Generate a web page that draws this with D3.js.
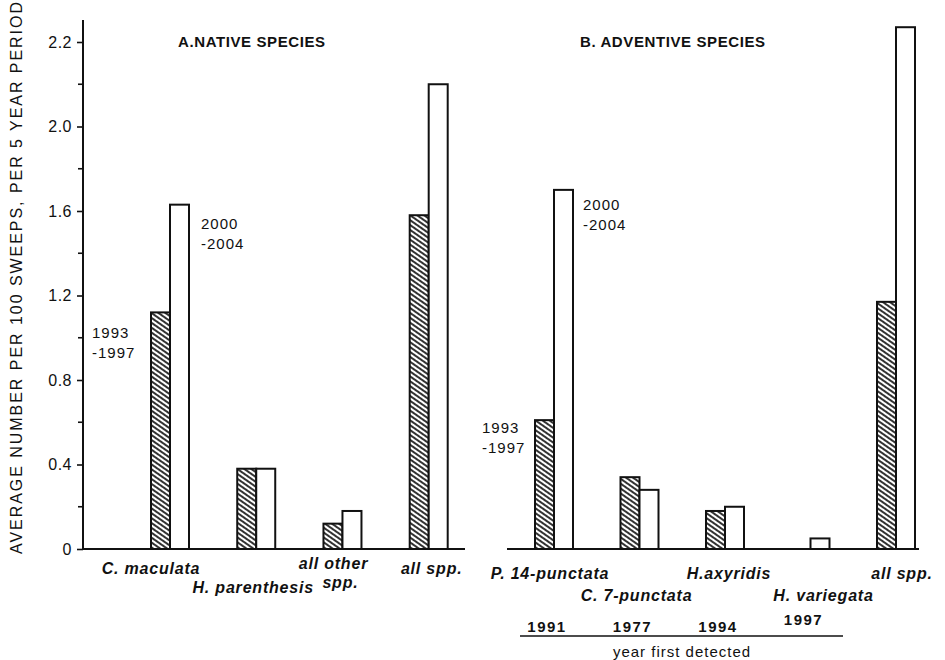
<!DOCTYPE html>
<html>
<head>
<meta charset="utf-8">
<script src="https://cdn.jsdelivr.net/npm/d3@7"></script>
<style>
  body { margin: 0; background: #fff; }
  text { font-family: "Liberation Sans", Arial, sans-serif; fill: #111; }
</style>
</head>
<body>
<script>
// values (y scale as drawn: one label step = 0.4)
const nativeSpecies = ['C. maculata', 'H. parenthesis', 'all other spp.', 'all spp.']
const native1993 = [1.12, 0.38, 0.12, 1.58]
const native2000 = [1.63, 0.38, 0.18, 2.20]

const adventiveSpecies = ['P. 14-punctata', 'C. 7-punctata', 'H.axyridis', 'H. variegata', 'all spp.']
const adventive1993 = [0.61, 0.34, 0.18, 0, 1.17]
const adventive2000 = [1.70, 0.28, 0.20, 0.05, 2.47]
const yearFirstDetected = ['1991', '1977', '1994', '1997']

const periods = ['1993-1997', '2000-2004']
const yTicks = [0, 0.4, 0.8, 1.2, 1.6, 2.0, 2.4]
const yTickLabels = ['0', '0.4', '0.8', '1.2', '1.6', '2.0', '2.2']
const yMinor = [0.2, 0.6, 1.0, 1.4, 1.8, 2.2]

// size of svg
const w = 945
const h = 660
const baseY = 549

const svg = d3.select('body').append('svg')
    .attr('width', w)
    .attr('height', h)

// hatch pattern for the first period
const defs = svg.append('defs')
const pat = defs.append('pattern')
    .attr('id', 'hatch')
    .attr('patternUnits', 'userSpaceOnUse')
    .attr('width', 4)
    .attr('height', 4)
    .attr('patternTransform', 'rotate(-55)')
pat.append('rect').attr('width', 4).attr('height', 4).attr('fill', '#fff')
pat.append('rect').attr('width', 2).attr('height', 4).attr('fill', '#333')

// y scale
const yScale = d3.scaleLinear()
    .domain([0, 2.4])
    .range([baseY, 42])

// y axis
const yAxis = d3.axisLeft(yScale)
    .tickValues(yTicks)
    .tickFormat((d, i) => yTickLabels[i])
    .tickSize(6)
    .tickPadding(5)

const gy = svg.append('g')
    .attr('transform', 'translate(83,0)')
    .call(yAxis)
gy.select('.domain').remove()
gy.selectAll('.tick line').attr('stroke', '#111').attr('stroke-width', 1.6)
gy.selectAll('.tick text')
    .style('font-size', '16px')
    .style('letter-spacing', '0.5px')
    .attr('fill', '#222')

gy.selectAll('.minor')
    .data(yMinor)
    .enter()
    .append('line')
    .attr('x1', -5)
    .attr('x2', 0)
    .attr('y1', d => yScale(d))
    .attr('y2', d => yScale(d))
    .attr('stroke', '#111')
    .attr('stroke-width', 1.6)

svg.append('line')
    .attr('x1', 83).attr('x2', 83)
    .attr('y1', 20).attr('y2', baseY)
    .attr('stroke', '#111').attr('stroke-width', 2)

// y axis title
svg.append('text')
    .attr('transform', `translate(22,278) rotate(-90)`)
    .attr('text-anchor', 'middle')
    .attr('textLength', 552)
    .attr('lengthAdjust', 'spacing')
    .style('font-size', '16px')
    .text('AVERAGE NUMBER PER 100 SWEEPS, PER 5 YEAR PERIOD')

// draw one panel of paired bars
function panel(species, v1, v2, x0, x1, lineX0, lineX1) {
    const xScale = d3.scalePoint()
        .domain(species)
        .range([x0, x1])
    const inner = d3.scaleBand()
        .domain(periods)
        .range([-19, 19])

    svg.append('line')
        .attr('x1', lineX0).attr('x2', lineX1)
        .attr('y1', baseY).attr('y2', baseY)
        .attr('stroke', '#111').attr('stroke-width', 2)

    const rows = species.map((s, i) => ({ s, vals: [v1[i], v2[i]] }))
    const g = svg.selectAll(null)
        .data(rows)
        .enter()
        .append('g')
        .attr('transform', d => `translate(${xScale(d.s)},0)`)

    g.selectAll('rect')
        .data(d => d.vals.map((v, j) => ({ v, p: periods[j] })).filter(e => e.v > 0))
        .enter()
        .append('rect')
        .attr('x', e => inner(e.p))
        .attr('width', inner.bandwidth())
        .attr('y', e => yScale(e.v))
        .attr('height', e => baseY - yScale(e.v))
        .attr('fill', e => e.p === periods[0] ? 'url(#hatch)' : '#fff')
        .attr('stroke', '#111')
        .attr('stroke-width', 2)

    return xScale
}

const xNative = panel(nativeSpecies, native1993, native2000, 170, 428.7, 83, 465)
const xAdv = panel(adventiveSpecies, adventive1993, adventive2000, 554, 896, 507, 919)

// category labels
const catStyle = sel => sel
    .attr('text-anchor', 'middle')
    .style('font-size', '16px')
    .style('font-weight', 'bold')
    .style('font-style', 'italic')
    .style('letter-spacing', '0.8px')

const nativeDx = [-19, -3, -9, 3]
const nativeY = [574, 593, 569, 574]
svg.selectAll(null)
    .data(nativeSpecies)
    .enter()
    .append('text')
    .call(catStyle)
    .attr('x', (d, i) => xNative(d) + nativeDx[i])
    .attr('y', (d, i) => nativeY[i])
    .text(d => d === 'all other spp.' ? 'all other' : d)
svg.append('text')
    .call(catStyle)
    .attr('x', xNative('all other spp.') - 2)
    .attr('y', 588)
    .text('spp.')

const advDx = [-4, -3, 4, 13, 6]
svg.selectAll(null)
    .data(adventiveSpecies)
    .enter()
    .append('text')
    .call(catStyle)
    .attr('x', (d, i) => xAdv(d) + advDx[i])
    .attr('y', (d, i) => i % 2 === 0 ? 579 : 601)
    .text(d => d)

// year first detected
svg.selectAll(null)
    .data(yearFirstDetected)
    .enter()
    .append('text')
    .attr('x', (d, i) => xAdv(adventiveSpecies[i]) - 7)
    .attr('y', (d, i) => i === 3 ? 625 : 632)
    .attr('text-anchor', 'middle')
    .style('font-size', '15px')
    .style('font-weight', 'bold')
    .style('letter-spacing', '1.5px')
    .text(d => d)

svg.append('line')
    .attr('x1', 520).attr('x2', 843)
    .attr('y1', 636).attr('y2', 636)
    .attr('stroke', '#111').attr('stroke-width', 1.5)

svg.append('text')
    .attr('x', 682)
    .attr('y', 657)
    .attr('text-anchor', 'middle')
    .style('font-size', '15px')
    .style('letter-spacing', '1px')
    .text('year first detected')

// period labels
const periodLabel = (x, y, lines) => {
    svg.append('text')
        .attr('x', x).attr('y', y)
        .style('font-size', '15px')
        .style('letter-spacing', '1px')
        .selectAll('tspan')
        .data(lines)
        .enter()
        .append('tspan')
        .attr('x', x)
        .attr('dy', (d, i) => i === 0 ? 0 : 20)
        .text(d => d)
}
periodLabel(92, 338, ['1993', '-1997'])
periodLabel(201, 229, ['2000', '-2004'])
periodLabel(482, 433, ['1993', '-1997'])
periodLabel(583, 210, ['2000', '-2004'])

// panel titles
svg.append('text')
    .attr('x', 178).attr('y', 47)
    .style('font-size', '15px')
    .style('font-weight', 'bold')
    .style('letter-spacing', '0.6px')
    .text('A.NATIVE SPECIES')
svg.append('text')
    .attr('x', 580).attr('y', 47)
    .style('font-size', '15px')
    .style('font-weight', 'bold')
    .style('letter-spacing', '0.6px')
    .text('B. ADVENTIVE SPECIES')
</script>
</body>
</html>
